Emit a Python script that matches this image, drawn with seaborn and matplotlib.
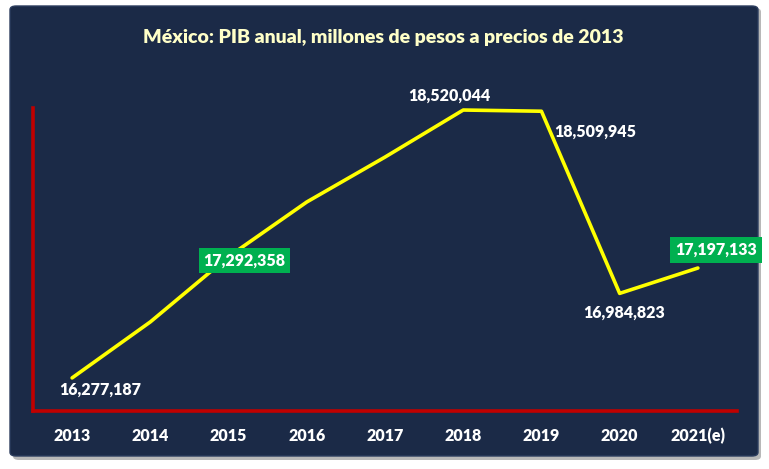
import matplotlib
matplotlib.use("Agg")
import matplotlib.pyplot as plt
from matplotlib.patches import FancyBboxPatch
import seaborn as sns
import pandas as pd

years = ["2013", "2014", "2015", "2016", "2017", "2018", "2019", "2020", "2021(e)"]
pib = [16277187, 16746000, 17292358, 17750000, 18126000, 18520044, 18509945, 16984823, 17197133]
labeled = {0: "16,277,187", 2: "17,292,358", 5: "18,520,044", 6: "18,509,945",
           7: "16,984,823", 8: "17,197,133"}
green_boxes = {2, 8}

sns.set_theme(style="white")
plt.rcParams['font.family'] = ['Lato', 'DejaVu Sans']

W, H = 769, 469
fig = plt.figure(figsize=(W / 100, H / 100), dpi=100)
fig.patch.set_facecolor("white")

navy = "#1b2a47"
shadow = FancyBboxPatch((13 / W, 1 - 460 / H), (748) / W, (452) / H,
                        boxstyle="round,pad=0,rounding_size=0.008",
                        transform=fig.transFigure, facecolor="#b8b8b8",
                        edgecolor="none", zorder=0)
fig.patches.append(shadow)
panel = FancyBboxPatch((10 / W, 1 - 456 / H), (748) / W, (450) / H,
                       boxstyle="round,pad=0,rounding_size=0.008",
                       transform=fig.transFigure, facecolor=navy,
                       edgecolor="#2c3d5e", linewidth=1, zorder=1)
fig.patches.append(panel)

ax_l, ax_r, ax_t, ax_b = 33, 737, 108, 411
ax = fig.add_axes([ax_l / W, 1 - ax_b / H, (ax_r - ax_l) / W, (ax_b - ax_t) / H])
ax.set_facecolor("none")
ax.set_zorder(2)

df = pd.DataFrame({"x": list(range(len(years))), "pib": pib})
sns.lineplot(data=df, x="x", y="pib", ax=ax, color="#ffff00", linewidth=2.6,
             sort=False)

ax.set_xlim(-0.5, 8.5)
ax.set_ylim(16000000, 18537000)
ax.set_xticks(range(len(years)))
ax.set_xticklabels(years, color="white", fontweight="heavy", fontsize=11.5)
ax.set_yticks([])
ax.tick_params(axis="x", length=0, pad=12)
ax.set_xlabel("")
ax.set_ylabel("")
for s in ["top", "right"]:
    ax.spines[s].set_visible(False)
for s in ["left", "bottom"]:
    ax.spines[s].set_color("#c00000")
    ax.spines[s].set_linewidth(2.6)

offsets = {0: (28, -12), 2: (16, -4), 5: (-14, 14), 6: (54, -20),
           7: (4, -19), 8: (18, 18)}
for i, txt in labeled.items():
    bbox = None
    if i in green_boxes:
        bbox = dict(boxstyle="square,pad=0.3", facecolor="#00b050", edgecolor="none")
    ax.annotate(txt, (i, pib[i]), xytext=offsets[i], textcoords="offset pixels",
                ha="center", va="center", color="white", fontweight="heavy",
                fontsize=11.5, bbox=bbox, zorder=5, annotation_clip=False)

fig.text(383 / W, 1 - 38 / H, "México: PIB anual, millones de pesos a precios de 2013",
         ha="center", va="center", color="#ffffc8", fontweight="heavy", fontsize=14,
         zorder=3)

fig.savefig("out.png", dpi=100)
